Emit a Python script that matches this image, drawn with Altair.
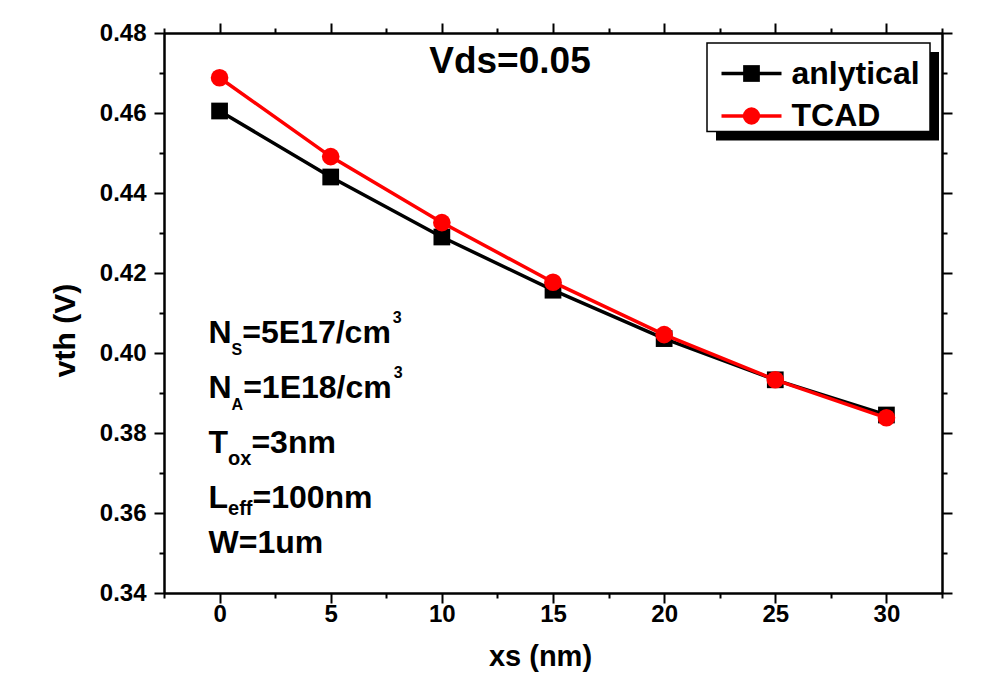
import altair as alt
import pandas as pd

# ---------------- data ----------------
xs_nm = [0, 5, 10, 15, 20, 25, 30]
vth_analytical = [0.4605, 0.4440, 0.4290, 0.4157, 0.4036, 0.3933, 0.3845]
vth_tcad = [0.4688, 0.4491, 0.4326, 0.4177, 0.4046, 0.3933, 0.3838]

series_names = ["anlytical", "TCAD"]
series_colors = ["#000000", "#ff0000"]
series_shapes = ["square", "circle"]

x_major = [0, 5, 10, 15, 20, 25, 30]
x_minor = [-2.5, 2.5, 7.5, 12.5, 17.5, 22.5, 27.5, 32.5]
y_major = [0.34, 0.36, 0.38, 0.40, 0.42, 0.44, 0.46, 0.48]
y_minor = [0.35, 0.37, 0.39, 0.41, 0.43, 0.45, 0.47]

condition_text = "Vds=0.05"
x_title = "xs (nm)"
y_title = "vth (V)"

# annotation lines: pieces of (text, role) ; role: main / sub / sup
annotation_lines = [
    [("N", "main"), ("S", "subcap"), ("=5E17/cm", "main"), ("3", "sup")],
    [("N", "main"), ("A", "subcap"), ("=1E18/cm", "main"), ("3", "sup")],
    [("T", "main"), ("ox", "sub"), ("=3nm", "main")],
    [("L", "main"), ("eff", "sublow"), ("=100nm", "main")],
    [("W=1um", "main")],
]

# ---------------- styling / layout ----------------
FONT = "Liberation Sans"
W, H = 778, 560
xscale = alt.Scale(domain=[-2.5, 32.5], nice=False, zero=False)
yscale = alt.Scale(domain=[0.34, 0.48], nice=False, zero=False)

# Arial-bold advance widths (per em) for chaining sub/superscript pieces
ADV = {"N": .722, "S": .667, "A": .722, "=": .584, "5": .556, "E": .667, "1": .556,
       "7": .556, "/": .278, "c": .556, "m": .889, "8": .556, "3": .556, "T": .611,
       "o": .611, "x": .556, "n": .611, "L": .611, "e": .556, "f": .333, "0": .556,
       "W": .944, "u": .611}
ROLE = {"main": (32, 0), "subcap": (16, 12), "sub": (20, 12), "sublow": (20, 7), "sup": (16, -20)}

df_a = pd.DataFrame({"xs": xs_nm, "vth": vth_analytical})
df_t = pd.DataFrame({"xs": xs_nm, "vth": vth_tcad})
one = pd.DataFrame({"k": [0]})


def tick_axis(orient, values, size):
    return alt.Axis(orient=orient, values=values, tickSize=size, tickWidth=2,
                    tickColor="black", domain=True, domainWidth=2, domainColor="black",
                    labels=False, grid=False, title=None)


x_main_axis = alt.Axis(
    orient="bottom", values=x_major, tickSize=10, tickWidth=2, tickColor="black",
    domain=True, domainWidth=2, domainColor="black", grid=False,
    labelFont=FONT, labelFontSize=24, labelFontWeight="bold", labelColor="black",
    labelPadding=-1, labelFlush=False, labelOverlap=False, format="d",
    title=x_title, titleFont=FONT, titleFontSize=29, titleFontWeight="bold",
    titleColor="black", titleX=376, titleY=72, titleAlign="center",
    titleBaseline="alphabetic", titleAngle=0)

y_main_axis = alt.Axis(
    orient="left", values=y_major, tickSize=10, tickWidth=2, tickColor="black",
    domain=True, domainWidth=2, domainColor="black", grid=False,
    labelFont=FONT, labelFontSize=24, labelFontWeight="bold", labelColor="black",
    labelPadding=8, labelFlush=False, labelOverlap=False, format=".2f",
    title=y_title, titleFont=FONT, titleFontSize=30, titleFontWeight="bold",
    titleColor="black", titleX=-90, titleY=297, titleAlign="center",
    titleBaseline="alphabetic", titleAngle=270)

layers = []

# main axes + analytical line
layers.append(alt.Chart(df_a).mark_line(color=series_colors[0], strokeWidth=3.5).encode(
    x=alt.X("xs:Q", scale=xscale, axis=x_main_axis),
    y=alt.Y("vth:Q", scale=yscale, axis=y_main_axis)))
layers.append(alt.Chart(df_a).mark_point(shape=series_shapes[0], filled=True, size=280,
                                         color=series_colors[0], opacity=1).encode(
    x=alt.X("xs:Q", scale=xscale, axis=None),
    y=alt.Y("vth:Q", scale=yscale, axis=None)))
layers.append(alt.Chart(df_t).mark_line(color=series_colors[1], strokeWidth=3.5).encode(
    x=alt.X("xs:Q", scale=xscale, axis=None),
    y=alt.Y("vth:Q", scale=yscale, axis=None)))
layers.append(alt.Chart(df_t).mark_point(shape=series_shapes[1], filled=True, size=310,
                                         color=series_colors[1], opacity=1).encode(
    x=alt.X("xs:Q", scale=xscale, axis=None),
    y=alt.Y("vth:Q", scale=yscale, axis=None)))

# tick-only axes (minor bottom/left, major+minor top/right)
for xo, xv, xs_, yo, yv, ys_ in [
    ("bottom", x_minor, 5, "left", y_minor, 5),
    ("top", x_major, 10, "right", y_major, 10),
    ("top", x_minor, 5, "right", y_minor, 5),
]:
    layers.append(alt.Chart(df_a).mark_point(opacity=0, size=1).encode(
        x=alt.X("xs:Q", scale=xscale, axis=tick_axis(xo, xv, xs_)),
        y=alt.Y("vth:Q", scale=yscale, axis=tick_axis(yo, yv, ys_))))

# condition label
layers.append(alt.Chart(one).mark_text(
    text=condition_text, font=FONT, fontSize=37, fontWeight="bold", color="black",
    align="center", baseline="alphabetic").encode(x=alt.value(346), y=alt.value(40)))

# parameter annotations with sub/superscripts
base_x = 44.5
baselines = [310, 365, 420, 475, 520]
for pieces, by in zip(annotation_lines, baselines):
    cx = base_x
    for txt, role in pieces:
        fs, dy = ROLE[role]
        if role == "sup":
            cx += 2
        layers.append(alt.Chart(one).mark_text(
            text=txt, font=FONT, fontSize=fs, fontWeight="bold", color="black",
            align="left", baseline="alphabetic").encode(
            x=alt.value(cx), y=alt.value(by + dy)))
        cx += sum(ADV.get(ch, 0.556) for ch in txt) * fs

# legend: shadow, box, entries
lx0, lx1, ly0, ly1 = 543, 766, 10, 98.5
layers.append(alt.Chart(one).mark_rect(color="black").encode(
    x=alt.value(lx0 + 9), x2=alt.value(lx1 + 9), y=alt.value(ly0 + 9), y2=alt.value(ly1 + 9)))
layers.append(alt.Chart(one).mark_rect(fill="white", stroke="black", strokeWidth=1.5).encode(
    x=alt.value(lx0), x2=alt.value(lx1), y=alt.value(ly0), y2=alt.value(ly1)))
row_y = [40.5, 83]
for name, col, shp, ry in zip(series_names, series_colors, series_shapes, row_y):
    layers.append(alt.Chart(one).mark_rule(color=col, strokeWidth=3.5).encode(
        x=alt.value(557.5), x2=alt.value(617.5), y=alt.value(ry)))
    layers.append(alt.Chart(one).mark_point(shape=shp, filled=True, opacity=1, color=col,
                                            size=280 if shp == "square" else 300).encode(
        x=alt.value(587.5), y=alt.value(ry)))
    layers.append(alt.Chart(one).mark_text(
        text=name, font=FONT, fontSize=32, fontWeight="bold", color="black",
        align="left", baseline="alphabetic").encode(x=alt.value(627.5), y=alt.value(ry + 10)))

chart = alt.layer(*layers).resolve_axis(x="independent", y="independent").properties(
    width=W, height=H,
    autosize=alt.AutoSizeParams(type="none"),
    padding={"left": 156, "top": 25, "right": 30, "bottom": 82},
    background="white",
).configure_view(stroke=None)

chart.save("out.html", embed_options={"renderer": "svg", "actions": False})
